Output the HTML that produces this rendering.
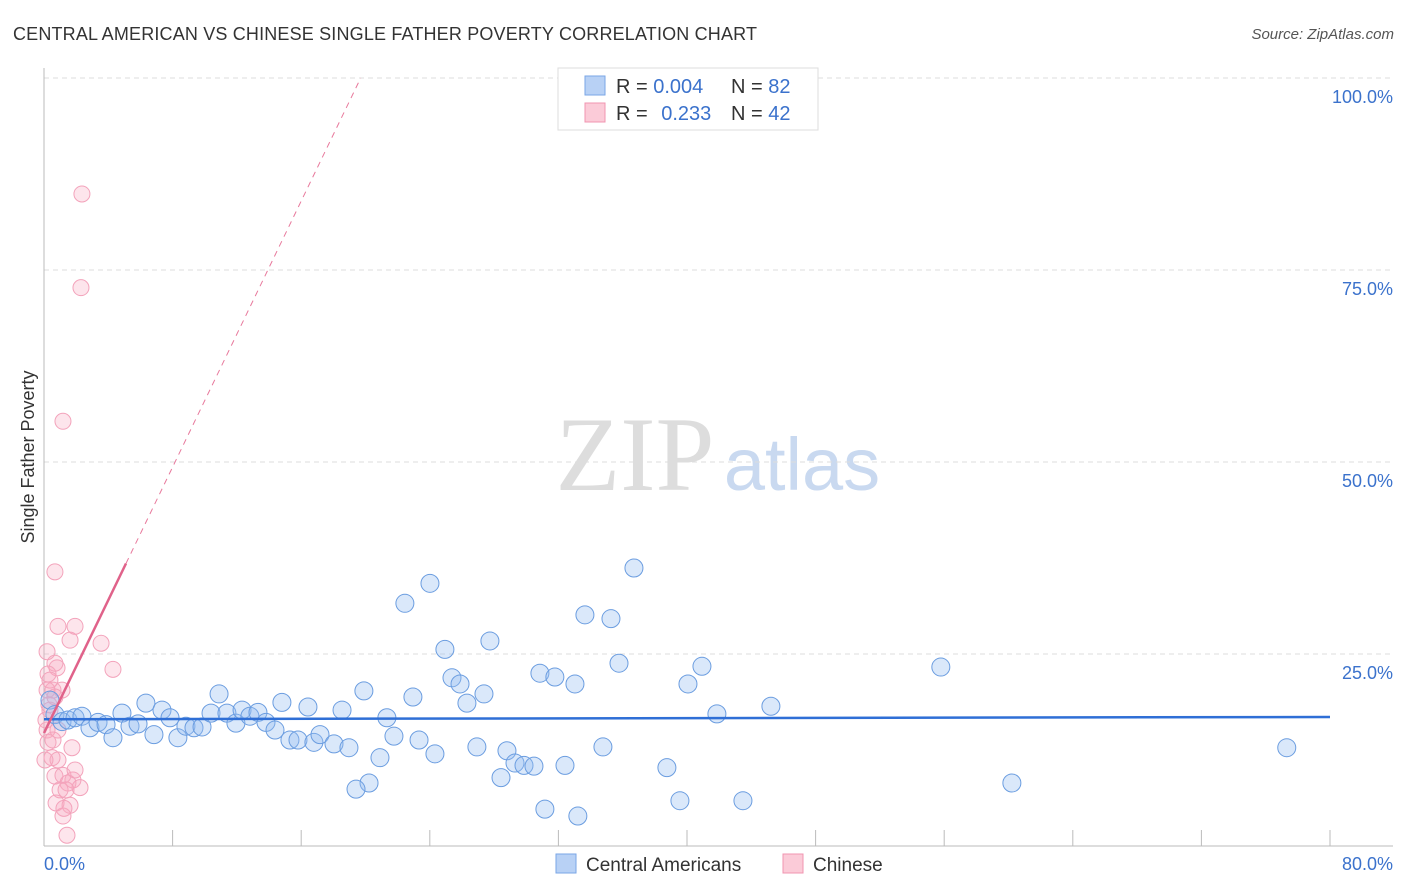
<!DOCTYPE html>
<html><head><meta charset="utf-8"><style>
body{margin:0;background:#fff;font-family:"Liberation Sans",sans-serif}
svg{display:block}
</style></head><body>
<svg id="chart" width="1406" height="892" xmlns="http://www.w3.org/2000/svg">
<text x="13" y="40" font-size="18" fill="#333" textLength="744">CENTRAL AMERICAN VS CHINESE SINGLE FATHER POVERTY CORRELATION CHART</text>
<text x="1394" y="39" font-size="15" fill="#555" text-anchor="end" font-style="italic">Source: ZipAtlas.com</text>
<g>
<text x="635" y="490" font-size="106" fill="#ddd" font-family="Liberation Serif" text-anchor="middle">ZIP</text>
<text x="802" y="490" font-size="74" fill="#c9d9f0" text-anchor="middle">atlas</text>
</g>
<g id="grid"></g><g id="axes"></g><g id="marks"></g>
<text transform="translate(34,457) rotate(-90)" font-size="18" fill="#333" text-anchor="middle">Single Father Poverty</text>
<g>
<rect x="558" y="68" width="260" height="62" fill="#fff" stroke="#ddd"/>
<rect x="585" y="76" width="20" height="19" fill="#b8d1f5" stroke="#7aa6e6"/>
<rect x="585" y="103" width="20" height="19" fill="#fbcbd8" stroke="#f095b0"/>
<text x="616" y="93" font-size="20" fill="#333">R = <tspan fill="#3b72cc">0.004</tspan></text>
<text x="731" y="93" font-size="20" fill="#333">N = <tspan fill="#3b72cc">82</tspan></text>
<text x="616" y="120" font-size="20" fill="#333">R = <tspan fill="#3b72cc" dx="8">0.233</tspan></text>
<text x="731" y="120" font-size="20" fill="#333">N = <tspan fill="#3b72cc">42</tspan></text>
</g>
<g>
<rect x="556" y="854" width="20" height="19" fill="#b8d1f5" stroke="#7aa6e6"/>
<text x="586" y="871" font-size="19" fill="#333">Central Americans</text>
<rect x="783" y="854" width="20" height="19" fill="#fbcbd8" stroke="#f095b0"/>
<text x="813" y="871" font-size="19" fill="#333">Chinese</text>
</g>
</svg>
<script>
const yTicks=[25,50,75,100];
const yTickLabels=["25.0%","50.0%","75.0%","100.0%"];
const xMin=0,xMax=80;
const blueX=[0.37,0.68,1.12,1.49,1.93,2.36,2.86,3.36,3.86,4.29,4.85,5.35,5.85,6.34,6.84,7.34,7.84,8.33,8.83,9.33,9.83,10.39,10.89,11.38,11.94,12.32,12.81,13.31,13.81,14.37,14.80,15.30,15.80,16.42,16.79,17.17,18.04,18.54,18.97,19.90,20.90,20.22,19.41,21.33,21.77,22.45,22.95,23.33,24.01,24.32,24.94,25.38,25.88,26.31,26.93,27.37,27.74,28.43,28.80,29.30,29.86,30.48,30.85,31.16,31.78,32.41,33.03,33.21,33.65,34.77,35.27,35.77,36.70,38.75,39.56,40.06,40.93,41.86,43.48,45.22,55.79,60.21,77.31];
const blueY=[19.0,17.1,16.2,16.4,16.7,16.9,15.4,16.1,15.8,14.1,17.3,15.6,15.9,18.6,14.5,17.7,16.7,14.1,15.6,15.4,15.5,17.3,19.8,17.3,16.0,17.7,16.9,17.4,16.1,15.1,18.7,13.8,13.8,18.1,13.5,14.5,13.3,17.7,12.8,20.2,11.5,8.2,7.4,16.7,14.3,31.6,19.4,13.8,34.2,12.0,25.6,21.9,21.1,18.6,12.9,19.8,26.7,8.9,12.4,10.8,10.5,10.4,22.5,4.8,22.0,10.5,21.1,3.9,30.1,12.9,29.6,23.8,36.2,10.2,5.9,21.1,23.4,17.2,5.9,18.2,23.3,8.2,12.8];
const pinkX=[2.36,2.30,1.18,0.68,0.87,1.93,1.62,3.55,4.29,0.19,0.68,0.81,0.25,0.56,0.37,0.19,0.50,0.87,1.74,0.68,1.18,1.80,1.49,2.24,1.00,1.37,0.75,1.62,1.18,1.43,0.25,0.12,0.37,0.31,0.56,1.12,1.93,0.06,0.87,1.24,0.19,0.68];
const pinkY=[84.9,72.7,55.3,35.7,28.6,28.6,26.8,26.4,23.0,25.3,23.8,23.2,22.4,20.3,17.7,15.1,11.5,11.2,12.8,9.1,9.2,8.6,8.2,7.6,7.3,7.3,5.6,5.3,3.9,1.4,13.5,16.4,21.6,18.4,13.8,20.3,9.9,11.2,15.1,4.9,20.3,19.4];
const blueFit=[16.5,16.8];
const pinkFit={intercept:14.7,slope:4.33,solidEnd:5.1};
const NS="http://www.w3.org/2000/svg";
const L=44,R=1330,T=78,B=846;
const sx=v=>L+(v-xMin)/(xMax-xMin)*(R-L);
const sy=v=>B-v/100*(B-T);
function mk(tag,attrs,parent){const e=document.createElementNS(NS,tag);for(const k in attrs)e.setAttribute(k,attrs[k]);parent.appendChild(e);return e;}
const grid=document.getElementById('grid'),axes=document.getElementById('axes'),marks=document.getElementById('marks');
yTicks.forEach((t,i)=>{
 const g=mk('line',{x1:L,x2:1393,y1:sy(t),y2:sy(t),stroke:'#ddd','stroke-dasharray':'5,4'},grid);
 
 
 const tx=mk('text',{x:1393,y:sy(t)+25,'font-size':18,fill:'#3b72cc','text-anchor':'end'},axes);
 tx.textContent=yTickLabels[i];
 
 
});
const ax=mk('line',{x1:L,x2:L,y1:68,y2:B,stroke:'#bbb'},axes);


const bx=mk('line',{x1:L,x2:1393,y1:B,y2:B,stroke:'#bbb'},axes);


for(let v=8;v<=80;v+=8){
 const tk=mk('line',{x1:sx(v),x2:sx(v),y1:830,y2:B,stroke:'#bbb'},axes);
 
 
}
const x0=mk('text',{x:44,y:870,'font-size':18,fill:'#3b72cc'},axes);x0.textContent="0.0%";


const x1=mk('text',{x:1393,y:870,'font-size':18,fill:'#3b72cc','text-anchor':'end'},axes);x1.textContent="80.0%";


pinkX.forEach((x,i)=>{
 const c=mk('circle',{cx:sx(x),cy:sy(pinkY[i]),r:8,fill:'rgba(248,170,192,0.3)',stroke:'#f3a3bb','stroke-width':1},marks);
 
 
});
blueX.forEach((x,i)=>{
 const c=mk('circle',{cx:sx(x),cy:sy(blueY[i]),r:9,fill:'rgba(150,190,240,0.35)',stroke:'#6b9de0','stroke-width':1},marks);
 
 
});
const bl=mk('line',{x1:sx(0),x2:sx(80),y1:sy(blueFit[0]),y2:sy(blueFit[1]),stroke:'#2f6fd6','stroke-width':2.5},marks);


const pf=x=>pinkFit.intercept+pinkFit.slope*x;
const xEnd=(100-pinkFit.intercept)/pinkFit.slope;
const pd=mk('line',{x1:sx(pinkFit.solidEnd),x2:sx(xEnd),y1:sy(pf(pinkFit.solidEnd)),y2:sy(100),stroke:'#e8799c','stroke-width':1,'stroke-dasharray':'6,5'},marks);


const ps=mk('line',{x1:sx(0),x2:sx(pinkFit.solidEnd),y1:sy(pf(0)),y2:sy(pf(pinkFit.solidEnd)),stroke:'#e0628a','stroke-width':2.5},marks);


</script>
</body></html>
